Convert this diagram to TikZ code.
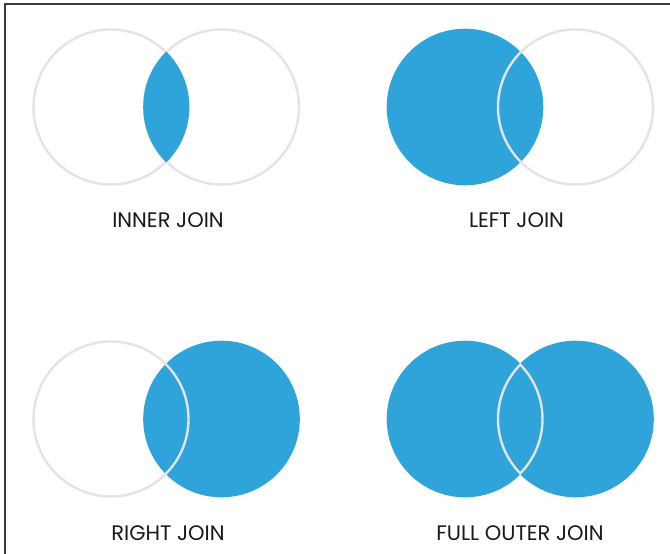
\documentclass[tikz,border=0pt]{standalone}
\usepackage{fontspec}
\setmainfont{Poppins}
\definecolor{joinblue}{HTML}{2EA4DA}
\definecolor{ringgray}{HTML}{E4E4E4}
\definecolor{framegray}{HTML}{3A3A3A}
\begin{document}
\begin{tikzpicture}[x=1pt,y=-1pt,
  ring/.style={draw=ringgray,line width=2.4pt},
  blob/.style={fill=joinblue},
  caption/.style={font=\fontsize{21}{24}\selectfont,text=black!90,anchor=base,inner sep=0pt}]
\useasboundingbox (0,0) rectangle (670,554);
\fill[white] (0,0) rectangle (670,554);
\draw[framegray,line width=1.6pt] (5,554) -- (5,4) -- (670,4);
\def\R{77.5}
\def\F{78.3}
% centers
\coordinate (a1) at (111,107);   \coordinate (b1) at (221.5,107);
\coordinate (a2) at (465,107);   \coordinate (b2) at (575.5,107);
\coordinate (a3) at (111,419);   \coordinate (b3) at (221.5,419);
\coordinate (a4) at (465,419);   \coordinate (b4) at (575.5,419);
% INNER JOIN
\draw[ring] (a1) circle (\R);
\draw[ring] (b1) circle (\R);
\begin{scope}
  \clip (a1) circle (\F);
  \fill[blob] (b1) circle (\F);
\end{scope}
% LEFT JOIN
\fill[blob] (a2) circle (\F);
\draw[ring] (b2) circle (\R);
% RIGHT JOIN
\fill[blob] (b3) circle (\F);
\draw[ring] (a3) circle (\R);
% FULL OUTER JOIN
\fill[blob] (a4) circle (\F);
\fill[blob] (b4) circle (\F);
\begin{scope}
  \clip (a4) circle (\F);
  \draw[ring] (b4) circle (\R);
\end{scope}
\begin{scope}
  \clip (b4) circle (\F);
  \draw[ring] (a4) circle (\R);
\end{scope}
% labels
\node[caption] (l1) at (168,227) {INNER JOIN};
\node[caption] (l2) at (516.5,227) {LEFT JOIN};
\node[caption] (l3) at (168,540) {RIGHT JOIN};
\node[caption] (l4) at (520,540) {FULL OUTER JOIN};
\end{tikzpicture}
\end{document}
